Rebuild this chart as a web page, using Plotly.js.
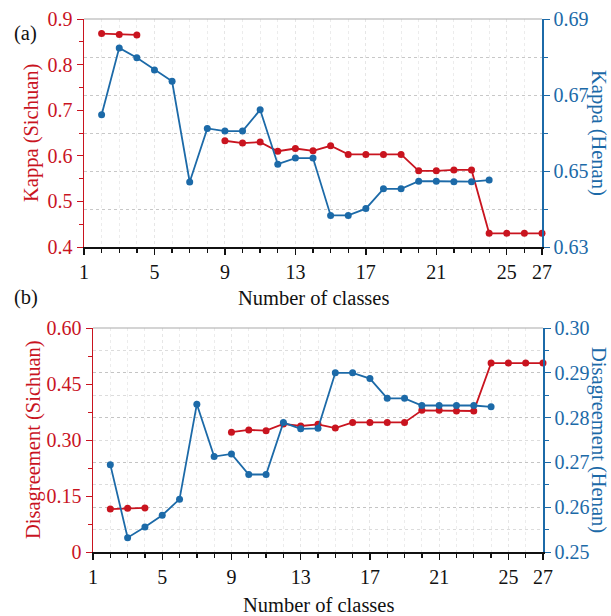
<!DOCTYPE html>
<html>
<head>
<meta charset="utf-8">
<script src="https://cdn.plot.ly/plotly-3.0.1.min.js"></script>
<style>html,body{margin:0;padding:0;background:#fff;}#chart{width:611px;height:616px;}</style>
</head>
<body>
<div id="chart"></div>
<script>
// ---- data ----
var classes = [2,3,4,5,6,7,8,9,10,11,12,13,14,15,16,17,18,19,20,21,22,23,24,25,26,27];
var kappaSichuan = [0.868,0.866,0.865,null,null,null,null,0.633,0.628,0.630,0.610,0.616,0.611,0.622,0.603,0.603,0.603,0.603,0.567,0.567,0.569,0.569,0.430,0.430,0.430,0.430];
var kappaHenan = [0.6648,0.6824,0.6798,0.6766,0.6736,0.6471,0.6612,0.6605,0.6605,0.6661,0.6518,0.6534,0.6534,0.6383,0.6383,0.6401,0.6453,0.6453,0.6473,0.6473,0.6472,0.6472,0.6476,null,null,null];
var disSichuan = [0.115,0.117,0.118,null,null,null,null,0.321,0.327,0.325,0.343,0.3375,0.342,0.332,0.347,0.347,0.347,0.347,0.3795,0.3795,0.3777,0.3777,0.506,0.506,0.506,0.506];
var disHenan = [0.2695,0.2532,0.2556,0.2582,0.2618,0.2830,0.2713,0.2719,0.2673,0.2673,0.2789,0.2775,0.2776,0.2900,0.2900,0.2887,0.2843,0.2843,0.2827,0.2827,0.2827,0.2827,0.2824,null,null,null];
var xTicks = [1,5,9,13,17,21,25,27];
var disLeftTicks = [0,0.15,0.30,0.45,0.60];
var disLeftText = ["0","0.15","0.30","0.45","0.60"];

var RED = '#c9141f', BLUE = '#1c6aa8';
var FONT = 'Liberation Serif';
var FS = 20;
var TS = 20.5;

function tr(y, xa, ya, color) {
  return {x: classes, y: y, xaxis: xa, yaxis: ya, type: 'scatter', mode: 'lines+markers',
    line: {color: color, width: 1.8}, marker: {color: color, size: 7}, cliponaxis: false, showlegend: false};
}
var data = [
  tr(kappaSichuan, 'x', 'y', RED),
  tr(kappaHenan, 'x', 'y2', BLUE),
  tr(disSichuan, 'x2', 'y3', RED),
  tr(disHenan, 'x2', 'y4', BLUE)
];

var tickF = {family: FONT, size: FS, color: '#111'};
function xax(domain, anchor) {
  return {domain: domain, anchor: anchor, range: [1, 27], tickvals: xTicks, ticks: 'outside', ticklen: 6, tickwidth: 1.3,
    tickcolor: '#111', showline: true, linecolor: '#111', linewidth: 1.5, zeroline: false,
    showgrid: true, gridcolor: '#e6e6e6', griddash: 'dot', gridwidth: 1, tickfont: tickF,
    minor: {dtick: 1, tick0: 1, ticks: 'outside', ticklen: 4, tickcolor: '#111', showgrid: true, gridcolor: '#ececec', griddash: 'dot'}};
}
var layout = {
  width: 611, height: 616, margin: {l: 0, r: 0, t: 0, b: 0}, paper_bgcolor: '#fff', plot_bgcolor: '#fff',
  font: {family: FONT},
  xaxis: xax([84/611, 542/611], 'y'),
  xaxis2: xax([93/611, 543/611], 'y3'),
  yaxis: {domain: [1-247/616, 1-19/616], anchor: 'x', range: [0.4, 0.9], dtick: 0.1, tick0: 0.4, tickformat: '.1f',
    ticks: 'outside', ticklen: 6, tickcolor: RED, showline: true, linecolor: RED, linewidth: 1.5, showgrid: false, zeroline: false,
    tickfont: {family: FONT, size: FS, color: RED}, minor: {dtick: 0.05, ticks: 'outside', ticklen: 4, tickcolor: RED}},
  yaxis2: {overlaying: 'y', side: 'right', anchor: 'x', range: [0.63, 0.69], dtick: 0.02, tick0: 0.63, tickformat: '.2f',
    ticks: 'outside', ticklen: 6, tickcolor: BLUE, showline: true, linecolor: BLUE, linewidth: 1.5, zeroline: false,
    showgrid: true, gridcolor: '#c8c8c8', griddash: 'dot', tickfont: {family: FONT, size: FS, color: BLUE}, ticklabelstandoff: 0,
    minor: {dtick: 0.01, ticks: 'outside', ticklen: 4, tickcolor: BLUE, showgrid: true, gridcolor: '#c8c8c8', griddash: 'dot'}},
  yaxis3: {domain: [1-552/616, 1-328/616], anchor: 'x2', range: [0, 0.6], tickvals: disLeftTicks, ticktext: disLeftText,
    ticks: 'outside', ticklen: 6, tickcolor: RED, showline: true, linecolor: RED, linewidth: 1.5, showgrid: false, zeroline: false,
    tickfont: {family: FONT, size: FS, color: RED}, minor: {dtick: 0.075, tick0: 0, ticks: 'outside', ticklen: 4, tickcolor: RED}},
  yaxis4: {overlaying: 'y3', side: 'right', anchor: 'x2', range: [0.25, 0.30], dtick: 0.01, tick0: 0.25, tickformat: '.2f',
    ticks: 'outside', ticklen: 6, tickcolor: BLUE, showline: true, linecolor: BLUE, linewidth: 1.5, zeroline: false,
    showgrid: true, gridcolor: '#c4c4c4', griddash: 'dot', tickfont: {family: FONT, size: FS, color: BLUE}, ticklabelstandoff: 0,
    minor: {dtick: 0.005, ticks: 'outside', ticklen: 4, tickcolor: BLUE, showgrid: true, gridcolor: '#dcdcdc', griddash: 'dot'}},
  shapes: [
    {type: 'line', xref: 'paper', yref: 'paper', x0: 84/611, x1: 542/611, y0: 1-19/616, y1: 1-19/616, line: {color: '#aaa', width: 1.2}},
    {type: 'line', xref: 'paper', yref: 'paper', x0: 93/611, x1: 543/611, y0: 1-328/616, y1: 1-328/616, line: {color: '#aaa', width: 1.2}}
  ],
  annotations: [
    {text: '(a)', x: 12/611, y: 1-33/616, xref: 'paper', yref: 'paper', xanchor: 'left', yanchor: 'middle', showarrow: false, font: {family: FONT, size: TS, color: '#111'}},
    {text: '(b)', x: 12/611, y: 1-297/616, xref: 'paper', yref: 'paper', xanchor: 'left', yanchor: 'middle', showarrow: false, font: {family: FONT, size: TS, color: '#111'}},
    {text: 'Number of classes', x: 313/611, y: 1-298/616, xref: 'paper', yref: 'paper', xanchor: 'center', yanchor: 'middle', showarrow: false, font: {family: FONT, size: TS, color: '#111'}},
    {text: 'Number of classes', x: 318/611, y: 1-605/616, xref: 'paper', yref: 'paper', xanchor: 'center', yanchor: 'middle', showarrow: false, font: {family: FONT, size: TS, color: '#111'}},
    {text: 'Kappa (Sichuan)', x: 31/611, y: 1-133/616, xref: 'paper', yref: 'paper', xanchor: 'center', yanchor: 'middle', textangle: -90, showarrow: false, font: {family: FONT, size: TS, color: RED}},
    {text: 'Kappa (Henan)', x: 599/611, y: 1-133/616, xref: 'paper', yref: 'paper', xanchor: 'center', yanchor: 'middle', textangle: 90, showarrow: false, font: {family: FONT, size: TS, color: BLUE}},
    {text: 'Disagreement (Sichuan)', x: 33/611, y: 1-440/616, xref: 'paper', yref: 'paper', xanchor: 'center', yanchor: 'middle', textangle: -90, showarrow: false, font: {family: FONT, size: TS, color: RED}},
    {text: 'Disagreement (Henan)', x: 599/611, y: 1-440/616, xref: 'paper', yref: 'paper', xanchor: 'center', yanchor: 'middle', textangle: 90, showarrow: false, font: {family: FONT, size: TS, color: BLUE}}
  ]
};
Plotly.newPlot('chart', data, layout, {displayModeBar: false, staticPlot: true});
</script>
</body>
</html>
